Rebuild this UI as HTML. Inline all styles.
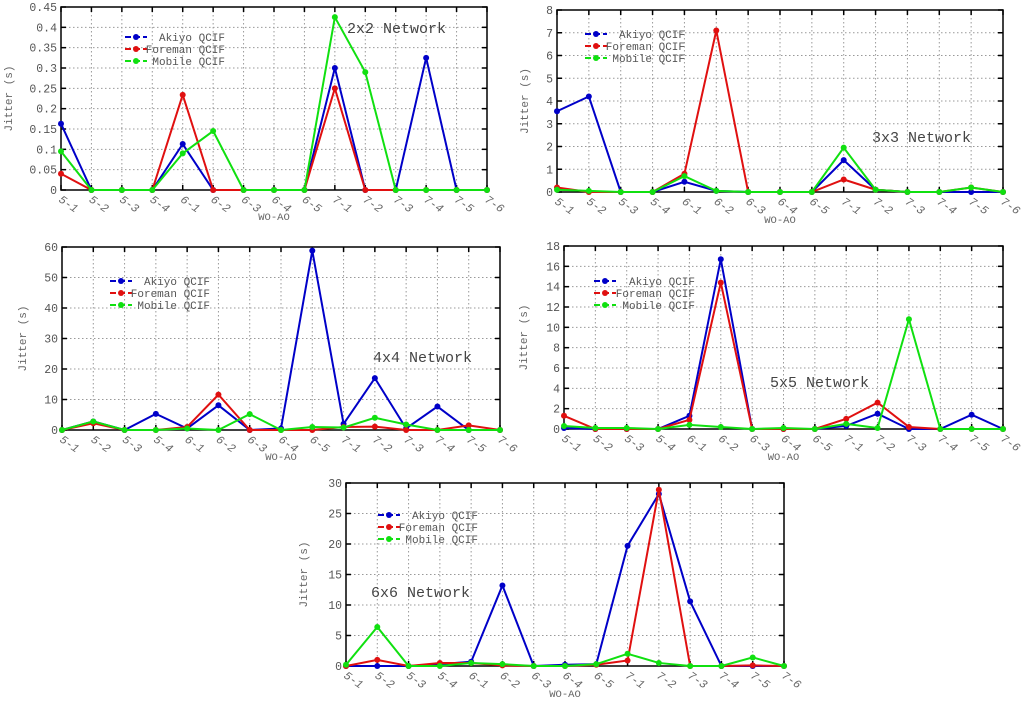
<!DOCTYPE html>
<html><head><meta charset="utf-8"><style>
body{margin:0;background:#fff}
svg{display:block}
text{font-family:"Liberation Mono",monospace}
</style></head><body>
<svg id="c" width="1024" height="702"></svg>
<script>
const categories=["5-1","5-2","5-3","5-4","6-1","6-2","6-3","6-4","6-5","7-1","7-2","7-3","7-4","7-5","7-6"];
const seriesNames=["Akiyo QCIF","Foreman QCIF","Mobile QCIF"];
const p1Akiyo=[0.163,0,0,0,0.113,0,0,0,0,0.3,0,0,0.325,0,0];
const p1Foreman=[0.04,0,0,0,0.234,0,0,0,0,0.25,0,0,0,0,0];
const p1Mobile=[0.095,0,0,0,0.09,0.145,0,0,0,0.425,0.29,0,0,0,0];
const p2Akiyo=[3.55,4.2,0,0,0.45,0.05,0,0,0,1.4,0.1,0,0,0,0];
const p2Foreman=[0.2,0,0,0,0.8,7.1,0,0,0,0.55,0.1,0,0,0.2,0];
const p2Mobile=[0.1,0.05,0,0,0.7,0.05,0,0,0,1.95,0.1,0,0,0.2,0];
const p3Akiyo=[0,2.8,0,5.3,0.5,8.1,0,0.5,58.8,2,17,0.5,7.7,0,0];
const p3Foreman=[0,2.2,0,0,1,11.6,0,0,0,1,1.1,0,0,1.5,0];
const p3Mobile=[0,2.8,0,0,0.5,0,5.2,0,1,0.8,4,1.8,0,0,0];
const p4Akiyo=[0.1,0,0,0,1.3,16.7,0,0,0,0.3,1.5,0,0,1.4,0];
const p4Foreman=[1.3,0,0,0,0.9,14.4,0,0,0,1,2.6,0.2,0,0,0];
const p4Mobile=[0.3,0.1,0.1,0,0.4,0.2,0,0.1,0,0.5,0.1,10.8,0,0,0];
const p5Akiyo=[0,0,0,0.3,0.7,13.2,0,0.2,0.3,19.7,28.2,10.6,0,0,0];
const p5Foreman=[0,1,0,0.5,0.5,0.1,0,0,0.2,0.9,28.9,0,0,0.1,0];
const p5Mobile=[0.2,6.4,0,0,0.5,0.3,0,0,0.3,2,0.5,0,0,1.4,0];
const p1Ticks=[0,0.05,0.1,0.15,0.2,0.25,0.3,0.35,0.4,0.45];
const p2Ticks=[0,1,2,3,4,5,6,7,8];
const p3Ticks=[0,10,20,30,40,50,60];
const p4Ticks=[0,2,4,6,8,10,12,14,16,18];
const p5Ticks=[0,5,10,15,20,25,30];

const colors=["#0000c8","#e01010","#10e010"];
const NS="http://www.w3.org/2000/svg";
const svg=document.getElementById('c');
function mk(tag,attrs,parent,txt){const e=document.createElementNS(NS,tag);for(const k in attrs)e.setAttribute(k,attrs[k]);if(txt!==undefined)e.textContent=txt;(parent||svg).appendChild(e);return e;}

const panels=[
 {name:"2x2",L:61,R:487,T:7,B:190,ticks:p1Ticks,data:[p1Akiyo,p1Foreman,p1Mobile],leg:[125,37,225],title:[347,33],xl:220,yl:8},
 {name:"3x3",L:557,R:1003,T:10,B:192,ticks:p2Ticks,data:[p2Akiyo,p2Foreman,p2Mobile],leg:[585,34,685],title:[872,142],xl:223,yl:524},
 {name:"4x4",L:62,R:500,T:247,B:430,ticks:p3Ticks,data:[p3Akiyo,p3Foreman,p3Mobile],leg:[110,281,210],title:[373,362],xl:460,yl:22},
 {name:"5x5",L:564,R:1003,T:246,B:429,ticks:p4Ticks,data:[p4Akiyo,p4Foreman,p4Mobile],leg:[594,281,695],title:[770,387],xl:460,yl:523},
 {name:"6x6",L:346,R:784,T:483,B:666,ticks:p5Ticks,data:[p5Akiyo,p5Foreman,p5Mobile],leg:[378,515,478],title:[371,597],xl:697,yl:303}
];

panels.forEach(p=>{
 const g=mk('g',{});
 
 
 const ymax=p.ticks[p.ticks.length-1];
 const x=i=>p.L+(p.R-p.L)*i/(categories.length-1);
 const y=v=>p.B-(p.B-p.T)*v/ymax;
 categories.forEach((c,i)=>{
  if(i>0&&i<categories.length-1){const gl=mk('line',{x1:x(i),x2:x(i),y1:p.T,y2:p.B,stroke:'#999','stroke-dasharray':'1.5,2.5','stroke-width':1},g);}
  mk('line',{x1:x(i),x2:x(i),y1:p.B,y2:p.B-5,stroke:'#000','stroke-width':1.5},g);
  mk('line',{x1:x(i),x2:x(i),y1:p.T,y2:p.T+5,stroke:'#000','stroke-width':1.5},g);
  const tx=x(i)-3, ty=p.B+11;
  const t=mk('text',{x:tx,y:ty,'font-size':11.5,'font-style':'italic',fill:'#666',transform:`rotate(35 ${tx} ${ty})`},g,c);
  
  
 });
 p.ticks.forEach((v,i)=>{
  if(i>0&&i<p.ticks.length-1){mk('line',{x1:p.L,x2:p.R,y1:y(v),y2:y(v),stroke:'#999','stroke-dasharray':'1.5,2.5','stroke-width':1},g);}
  mk('line',{x1:p.R,x2:p.R-5,y1:y(v),y2:y(v),stroke:'#000','stroke-width':1.5},g);
  mk('line',{x1:p.L,x2:p.L+5,y1:y(v),y2:y(v),stroke:'#000','stroke-width':1.5},g);
  const t=mk('text',{x:p.L-4,y:y(v)+4,'font-size':11.5,fill:'#555','text-anchor':'end'},g,String(v));
  
  
 });
 const fr=mk('rect',{x:p.L,y:p.T,width:p.R-p.L,height:p.B-p.T,fill:'none',stroke:'#000','stroke-width':1.5},g);
 
 
 p.data.forEach((arr,s)=>{
  const pts=arr.map((v,i)=>x(i)+','+y(v)).join(' ');
  const pl=mk('polyline',{points:pts,fill:'none',stroke:colors[s],'stroke-width':2},g);
  
  
  arr.forEach((v,i)=>{const c=mk('circle',{cx:x(i),cy:y(v),r:3,fill:colors[s]},g);});
 });
 seriesNames.forEach((n,s)=>{
  const ly=p.leg[1]+s*12;
  mk('line',{x1:p.leg[0],x2:p.leg[0]+22,y1:ly,y2:ly,stroke:colors[s],'stroke-width':2,'stroke-dasharray':'6,3'},g);
  mk('circle',{cx:p.leg[0]+11,cy:ly,r:3,fill:colors[s]},g);
  const t=mk('text',{x:p.leg[2],y:ly+4,'font-size':11,fill:'#555','text-anchor':'end'},g,n);
  
  
 });
 const tt=mk('text',{x:p.title[0],y:p.title[1],'font-size':15,fill:'#444'},g,p.name+' Network');
 
 
 const xt=mk('text',{x:(p.L+p.R)/2,y:p.xl,'font-size':10.5,fill:'#666','text-anchor':'middle'},g,'WO-AO');
 
 
 const yc=(p.T+p.B)/2;
 const yt=mk('text',{x:p.yl,y:yc,'font-size':11,fill:'#666','text-anchor':'middle',transform:`rotate(-90 ${p.yl} ${yc})`,dy:4},g,'Jitter (s)');
 
 
});
</script>
</body></html>
